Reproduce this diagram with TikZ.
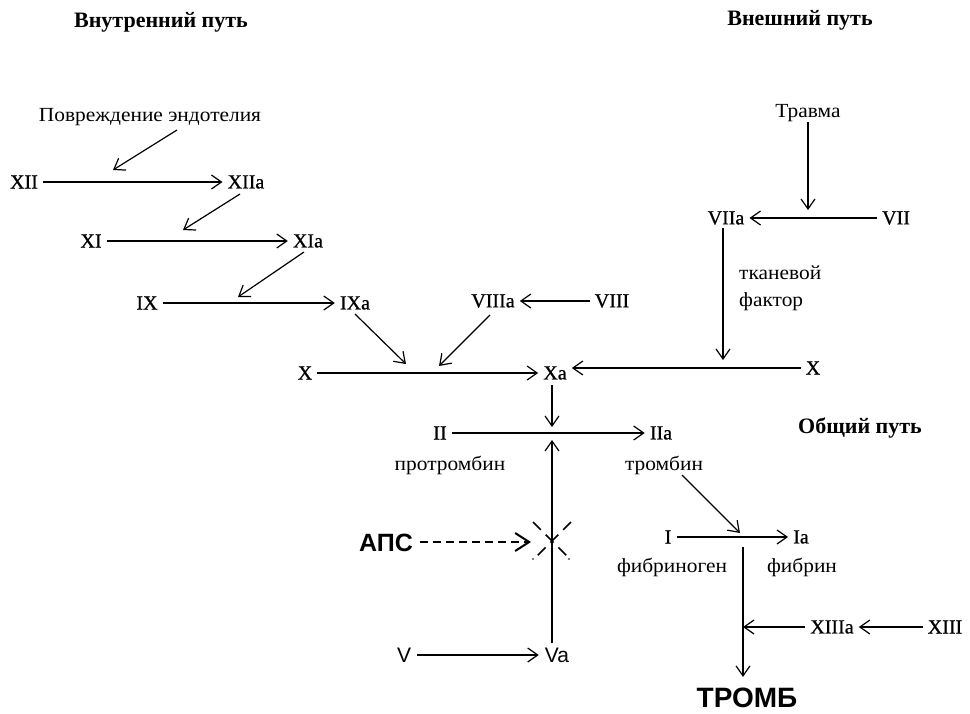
\documentclass[tikz,border=0pt]{standalone}
\usepackage{fontspec}
\setmainfont{Liberation Serif}
\newfontfamily\arialf{Liberation Sans}
\newfontfamily\numfont[FakeBold=0.8]{Liberation Serif}
\newfontfamily\wordfont[FakeStretch=1.07]{Liberation Serif}
\usetikzlibrary{arrows.meta}
\begin{document}
\begin{tikzpicture}[x=1pt,y=-1pt,
  num/.style={font=\numfont\fontsize{20}{22}\selectfont, inner sep=5pt},
  word/.style={font=\wordfont\fontsize{20}{27}\selectfont, inner sep=2pt},
  head/.style={font=\bfseries\fontsize{22}{24}\selectfont},
  bigsans/.style={font=\arialf\bfseries\fontsize{28}{30}\selectfont, inner sep=3pt},
  aps/.style={font=\arialf\bfseries\fontsize{25}{27}\selectfont, inner sep=3pt},
  sans/.style={font=\arialf\fontsize{21}{23}\selectfont, inner sep=6pt},
  arr/.style={line width=1.2pt, -{Straight Barb[length=10pt,width=14pt]}},
  ln/.style={line width=1.2pt}]
\useasboundingbox (0,0) rectangle (970,713);

% headings
\node[head] (hin) at (161,22) {Внутренний путь};
\node[head] (hex) at (800,20) {Внешний путь};
\node[head] (hcom) at (860,428) {Общий путь};

% intrinsic
\node[word] (endo) at (150,117) {Повреждение эндотелия};
\node[num] (XII) at (24,182) {XII};
\node[num] (XIIa) at (246,182) {XIIa};
\node[num] (XI) at (91,241) {XI};
\node[num] (XIa) at (308,241) {XIa};
\node[num] (IX) at (147,303) {IX};
\node[num] (IXa) at (355,303) {IXa};
\node[num] (VIIIa) at (493,301) {VIIIa};
\node[num] (VIII) at (612,301) {VIII};
\node[num] (X) at (305,373) {X};
\node[num] (Xa) at (555,373) {Xa};

% extrinsic
\node[word] (trauma) at (808,113) {Травма};
\node[num] (VIIa) at (726,218) {VIIa};
\node[num] (VII) at (896,218) {VII};
\node[word, align=left, anchor=west] (tf) at (737,288) {тканевой\\фактор};
\node[num] (X2) at (813,368) {X};

% common
\node[num] (II) at (440,433) {II};
\node[num] (IIa) at (661,433) {IIa};
\node[word] (prot) at (450,465) {протромбин};
\node[word] (thr) at (664,465) {тромбин};
\node[num] (I) at (668,537) {I};
\node[num] (Ia) at (801,537) {Ia};
\node[word] (fbg) at (672,567) {фибриноген};
\node[word] (fbn) at (802,567) {фибрин};
\node[num] (XIIIa) at (832,627) {XIIIa};
\node[num] (XIII) at (945,627) {XIII};
\node[bigsans] (tromb) at (747,698) {ТРОМБ};
\node[aps] (apsn) at (386,543) {АПС};
\node[sans] (V) at (404,655) {V};
\node[sans] (Va) at (557,655) {Va};

% helper coordinates
\coordinate (c1) at (113,170);
\coordinate (c2) at (183,230);
\coordinate (c3) at (238,297);
\coordinate (c4) at (406,364);
\coordinate (c5) at (439,366);
\coordinate (c6) at (740,533);
\coordinate (e1) at (177,130);
\coordinate (s2) at (240,194);
\coordinate (s3) at (304,252);
\coordinate (s4) at (355,314);
\coordinate (s5) at (490,315);
\coordinate (s6) at (682,475);
\coordinate (dn) at (552,427);
\coordinate (up) at (552,440);
\coordinate (xm) at (552,541);
\coordinate (apstip) at (531,542);
\coordinate (ftop) at (743,547);
\coordinate (ttip) at (808,210);
\coordinate (tfs) at (723,360);

% intrinsic arrows
\draw[arr] (e1) -- (c1);
\draw[arr] (XII) -- (XIIa);
\draw[arr] (s2) -- (c2);
\draw[arr] (XI) -- (XIa);
\draw[arr] (s3) -- (c3);
\draw[arr] (IX) -- (IXa);
\draw[arr] (VIII) -- (VIIIa);
\draw[arr] (s4) -- (c4);
\draw[arr] (s5) -- (c5);
\draw[arr] (X) -- (Xa);

% extrinsic arrows
\draw[arr] ([yshift=2pt]trauma.south) -- (ttip);
\draw[arr] (VII) -- (VIIa);
\draw[arr] ([yshift=2pt]VIIa.south -| tfs) -- (tfs);
\draw[arr] (X2) -- (X2 -| Xa.east);

% common arrows
\draw[arr] (Xa.south -| dn) -- (dn);
\draw[arr] (II) -- (IIa);
\draw[arr] ([yshift=-2pt]Va.north -| up) -- (up);
\draw[arr] (V) -- (Va);
\draw[line width=2pt, dash pattern=on 8pt off 5pt, -{Straight Barb[length=14pt,width=18pt]}] ([xshift=4pt]apsn.east |- apstip) -- (apstip);
\draw[ln, line width=1.6pt, dash pattern=on 11pt off 7pt] ([shift={(-19,-19)}]xm) -- ([shift={(17,17)}]xm);
\draw[ln, line width=1.6pt, dash pattern=on 11pt off 7pt] ([shift={(19,-19)}]xm) -- ([shift={(-17,17)}]xm);
\fill ([shift={(-19,18)}]xm) circle (0.8pt);
\fill ([shift={(17,18)}]xm) circle (0.8pt);

\draw[arr] (s6) -- (c6);
\draw[arr] (I) -- (Ia);
\draw[arr] (ftop) -- ([yshift=8pt]tromb.north -| ftop);
\draw[arr] (XIIIa) -- (XIIIa -| ftop);
\draw[arr] (XIII) -- (XIIIa);
\end{tikzpicture}
\end{document}
